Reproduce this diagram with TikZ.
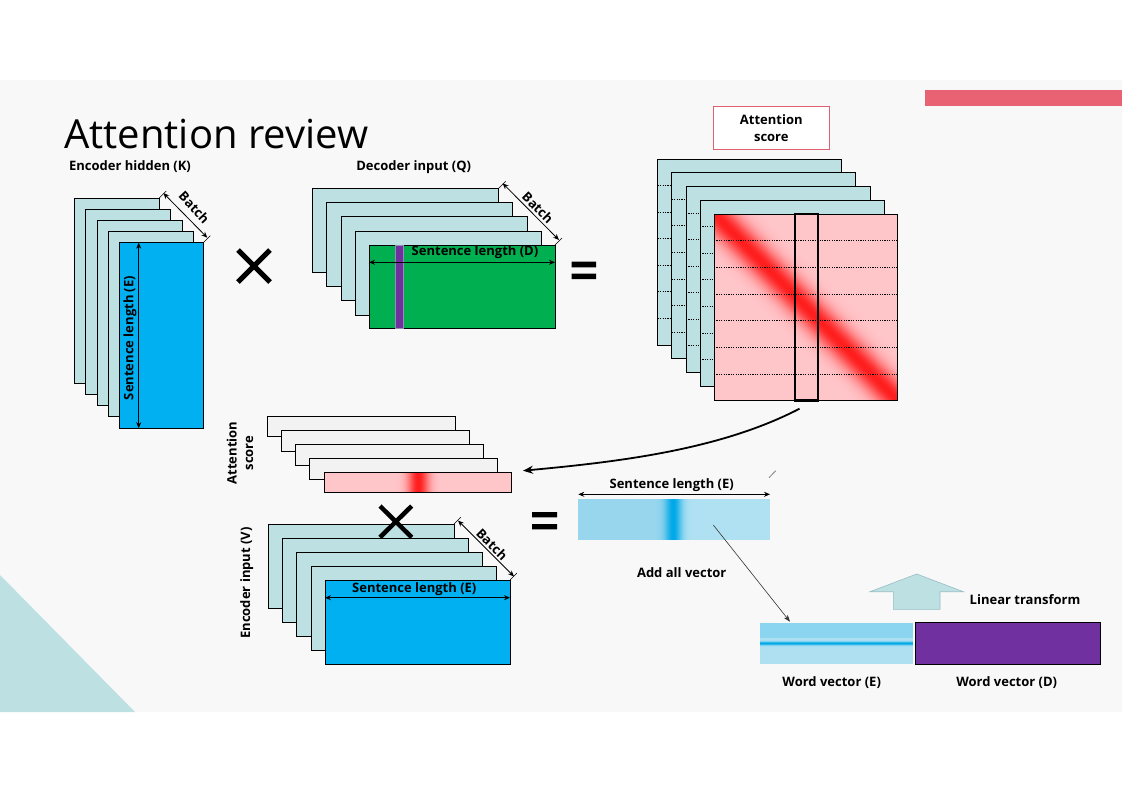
\documentclass[tikz,border=0pt]{standalone}
\usepackage{fontspec}
\setmainfont{Open Sans}
\usetikzlibrary{arrows.meta,calc}
\definecolor{bgc}{RGB}{248,248,248}
\definecolor{cyanc}{RGB}{189,224,227}
\definecolor{bluec}{RGB}{0,176,240}
\definecolor{greenc}{RGB}{0,176,80}
\definecolor{purplec}{RGB}{112,48,160}
\definecolor{pinkc}{RGB}{255,198,202}
\definecolor{redc}{RGB}{255,30,30}
\definecolor{grayc}{RGB}{242,242,242}
\definecolor{headc}{RGB}{232,98,115}
\definecolor{boxbc}{RGB}{224,96,112}
\definecolor{vecL}{RGB}{152,214,238}
\definecolor{vecR}{RGB}{176,225,242}
\definecolor{bandc}{RGB}{0,168,232}
\definecolor{weTop}{RGB}{140,213,240}
\definecolor{weBot}{RGB}{174,224,242}
\definecolor{arrbc}{RGB}{150,190,195}
\begin{document}
\begin{tikzpicture}[x=1pt,y=-1pt,
  stk/.style={draw=black, line width=0.8pt, inner sep=0pt, outer sep=0pt, anchor=north west},
  lbl/.style={font=\bfseries\fontsize{13}{16.5}\selectfont, inner sep=0pt, text=black},
  dim/.style={{Stealth[length=6pt,width=5pt]}-{Stealth[length=6pt,width=5pt]}, line width=0.8pt},
  ext/.style={line width=0.6pt},
  dots/.style={line width=1pt, dash pattern=on 1.2pt off 1.2pt},
  times/.style={line width=5pt},
]
\useasboundingbox (0,0) rectangle (1122,793);
\fill[white] (0,0) rectangle (1122,793);
\fill[bgc] (0,80) rectangle (1122,712);
\fill[headc] (925,90) rectangle (1122,106);
\fill[cyanc] (0,575) -- (0,712) -- (135,712) -- cycle;

% title
\node[font=\fontsize{40}{48}\selectfont, anchor=base west, inner sep=0pt] (title) at (64,148) {Attention review};

% ---------- Encoder hidden (K)
\node[lbl] (klab) at (130,167) {Encoder hidden (K)};
\foreach \i in {1,...,4}
  \node[stk, fill=cyanc, minimum width=85pt, minimum height=185pt] (k\i) at ({74.3+11.3*(\i-1)},{198+11.2*(\i-1)}) {};
\node[stk, fill=bluec, minimum width=84pt, minimum height=185.5pt] (k5) at (119.3,242.7) {};
\draw[dim] ($(k5.north west)+(19.4,0)$) -- ($(k5.south west)+(19.4,0)$);
\node[lbl, rotate=90] (klen) at (130,338) {Sentence length (E)};
\draw[ext] (k1.north east) -- ++(7,-7);
\draw[ext] (k5.north east) -- ++(7,-7);
\coordinate (kb1) at ($(k1.north east)+(4,-5)$);
\coordinate (kb2) at ($(k5.north east)+(4,-5)$);
\draw[dim] (kb1) -- (kb2);
\node[lbl, rotate=-47] (kbatch) at ($(kb1)!0.5!(kb2)+(9,-8)$) {Batch};

% times sign 1
\draw[times] (238,250) -- (270,282) (238,282) -- (270,250);

% ---------- Decoder input (Q)
\node[lbl] (qlab) at (413.7,167) {Decoder input (Q)};
\foreach \i in {1,...,4}
  \node[stk, fill=cyanc, minimum width=186pt, minimum height=84pt] (q\i) at ({312.7+14.1*(\i-1)},{188.3+14.2*(\i-1)}) {};
\node[stk, fill=greenc, minimum width=186pt, minimum height=83.3pt] (q5) at (369,245) {};
\node[stk, fill=purplec, draw={rgb,255:red,150;green,140;blue,180}, minimum width=7.6pt, minimum height=83.3pt] (qstrip) at (395.7,245) {};
\draw[dim] ($(q5.north west)+(0,17.3)$) -- ($(q5.north east)+(0,17.3)$);
\node[lbl] (qlen) at (475,252.3) {Sentence length (D)};
\draw[ext] (q1.north east) -- ++(7,-7);
\draw[ext] (q5.north east) -- ++(7,-7);
\coordinate (qb1) at ($(q1.north east)+(4,-5)$);
\coordinate (qb2) at ($(q5.north east)+(4,-5)$);
\draw[dim] (qb1) -- (qb2);
\node[lbl, rotate=-45] (qbatch) at ($(qb1)!0.5!(qb2)+(7,-4)$) {Batch};

% equals 1
\fill[black] (571.7,261.7) rectangle (596,267.3) (571.7,273.5) rectangle (596,279);

% ---------- Attention score (top)
\node[lbl, draw=boxbc, line width=0.8pt, fill=white, minimum width=116pt, minimum height=42.6pt, align=center] (atbox) at (771.3,128) {Attention\\score};
\foreach \i in {1,...,4} {
  \node[stk, fill=cyanc, minimum width=184pt, minimum height=186pt] (a\i) at ({657.7+14.1*(\i-1)},{159+13.75*(\i-1)}) {};
  \foreach \k in {1,...,6}
    \draw[dots] ($(a\i.north west)!{\k/7}!(a\i.south west)$) -- ($(a\i.north east)!{\k/7}!(a\i.south east)$);
}
\node[stk, fill=pinkc, minimum width=183.3pt, minimum height=186.7pt] (a5) at (714,214) {};
\begin{scope}
  \clip (a5.north west) rectangle (a5.south east);
  \foreach \v in {-50,...,50} {
    \pgfmathsetmacro\p{100*exp(-(\v*\v)/450)}
    \draw[line width=1.4pt, draw=redc!\p!pinkc] ($(a5.north west)+(0,\v)$) -- ($(a5.south east)+(0,\v)$);
  }
\end{scope}
\draw[line width=0.8pt] (a5.north west) rectangle (a5.south east);
\foreach \k in {1,...,6}
  \draw[dots] ($(a5.north west)!{\k/7}!(a5.south west)$) -- ($(a5.north east)!{\k/7}!(a5.south east)$);
\node[stk, draw=black, line width=2.5pt, minimum width=23pt, minimum height=186.7pt] (col) at (795,214) {};

% ---------- middle attention score bars
\node[lbl, rotate=90, align=center] (mlab) at (240,453) {Attention\\score};
\foreach \i in {1,...,4}
  \node[stk, fill=grayc, minimum width=187.3pt, minimum height=20.7pt] (b\i) at ({267.7+14*(\i-1)},{416+14.2*(\i-1)}) {};
\node[stk, fill=pinkc, minimum width=187pt, minimum height=20pt] (b5) at (324,472.7) {};
\begin{scope}
  \clip (b5.north west) rectangle (b5.south east);
  \foreach \u in {-30,...,30} {
    \pgfmathsetmacro\p{100*exp(-(\u*\u)/110)}
    \draw[line width=1.2pt, draw=redc!\p!pinkc] ($(b5.north west)+(94.3+\u,0)$) -- ($(b5.south west)+(94.3+\u,0)$);
  }
\end{scope}
\draw[line width=0.8pt] (b5.north west) rectangle (b5.south east);

% curved arrow
\coordinate (cs) at ($(col.south)+(-7,8)$);
\coordinate (ce) at ($(b5.north east)+(12,-2)$);
\draw[line width=1.8pt, -{Stealth[length=10pt,width=8pt]}] (cs) .. controls ($(cs)+(-79,41)$) and ($(ce)+(97,-9)$) .. (ce);

% ---------- Encoder input (V)
\node[lbl, rotate=90] (vlab) at (246.7,583) {Encoder input (V)};
\foreach \i in {1,...,4}
  \node[stk, fill=cyanc, minimum width=185.7pt, minimum height=84.3pt] (v\i) at ({268.3+14.2*(\i-1)},{524+14*(\i-1)}) {};
\node[stk, fill=bluec, minimum width=185pt, minimum height=84pt] (v5) at (325,580) {};
\draw[dim] ($(v5.north west)+(0,17.7)$) -- ($(v5.north east)+(0,17.7)$);
\node[lbl] (vlen) at (414.3,589.3) {Sentence length (E)};
\draw[ext] (v1.north east) -- ++(7,-7);
\draw[ext] (v5.north east) -- ++(7,-7);
\coordinate (vb1) at ($(v1.north east)+(4,-3.5)$);
\coordinate (vb2) at ($(v5.north east)+(4,-3.5)$);
\draw[dim] (vb1) -- (vb2);
\node[lbl, rotate=-45] (vbatch) at ($(vb1)!0.5!(vb2)+(6,-4)$) {Batch};

% times sign 2
\draw[line width=4.5pt] (380,506) -- (411.7,537.3) (380,537.3) -- (411.7,506);

% equals 2
\fill[black] (532,512) rectangle (557,517.3) (532,524) rectangle (557,529.3);

% ---------- summed vector
\node[stk, draw=none, fill=vecR, minimum width=191.7pt, minimum height=40.7pt] (vec) at (578.3,499.3) {};
\fill[vecL] (vec.north west) rectangle ($(vec.south west)+(95.7,0)$);
\begin{scope}
  \clip (vec.north west) rectangle (vec.south east);
  \foreach \u in {-24,...,24} {
    \pgfmathsetmacro\p{100*exp(-(\u*\u)/70)}
    \ifdim\u pt<0pt
      \draw[line width=1.2pt, draw=bandc!\p!vecL] ($(vec.north west)+(95.7+\u,0)$) -- ($(vec.south west)+(95.7+\u,0)$);
    \else
      \draw[line width=1.2pt, draw=bandc!\p!vecR] ($(vec.north west)+(95.7+\u,0)$) -- ($(vec.south west)+(95.7+\u,0)$);
    \fi
  }
\end{scope}
\draw[dim] ($(vec.north west)+(0,-5)$) -- ($(vec.north east)+(0,-5)$);
\node[lbl] (veclen) at (671.7,485) {Sentence length (E)};
\node[lbl] (addall) at (681.7,572.3) {Add all vector};
\draw[line width=0.8pt, draw=gray] (769,477.7) -- (775.7,470.7);

% ---------- word vectors
\node[stk, draw=none, fill=weBot, minimum width=153.3pt, minimum height=41.3pt] (we) at (760,622.7) {};
\fill[weTop] (we.north west) rectangle ($(we.east)+(0,0)$);
\begin{scope}
  \clip (we.north west) rectangle (we.south east);
  \foreach \u in {-5,...,5} {
    \pgfmathsetmacro\p{100*exp(-(\u*\u)/3)}
    \draw[line width=1.1pt, draw=bandc!\p!weBot] ($(we.west)+(0,\u)$) -- ($(we.east)+(0,\u)$);
  }
\end{scope}
\node[stk, fill=purplec, minimum width=185pt, minimum height=41.3pt] (wd) at (915,622.7) {};
\node[lbl] (welab) at (831.7,682.7) {Word vector (E)};
\node[lbl] (wdlab) at (1006.7,682.7) {Word vector (D)};

% thin arrow
\coordinate (ts) at ($(vec.north west)+(135,25.7)$);
\coordinate (tt) at ($(we.north west)+(30,-1)$);
\draw[line width=0.6pt, draw=black!80, -{Stealth[length=7pt,width=5pt]}] (ts) -- (tt);

% block up arrow
\draw[fill=cyanc, draw=arrbc, line width=0.6pt] (893.3,609.3) -- (893.3,591.7) -- (870,591.7) -- (916.7,574) -- (963.3,591.7) -- (940,591.7) -- (940,609.3) -- cycle;
\node[lbl] (lin) at (1025,599.3) {Linear transform};
\end{tikzpicture}
\end{document}
